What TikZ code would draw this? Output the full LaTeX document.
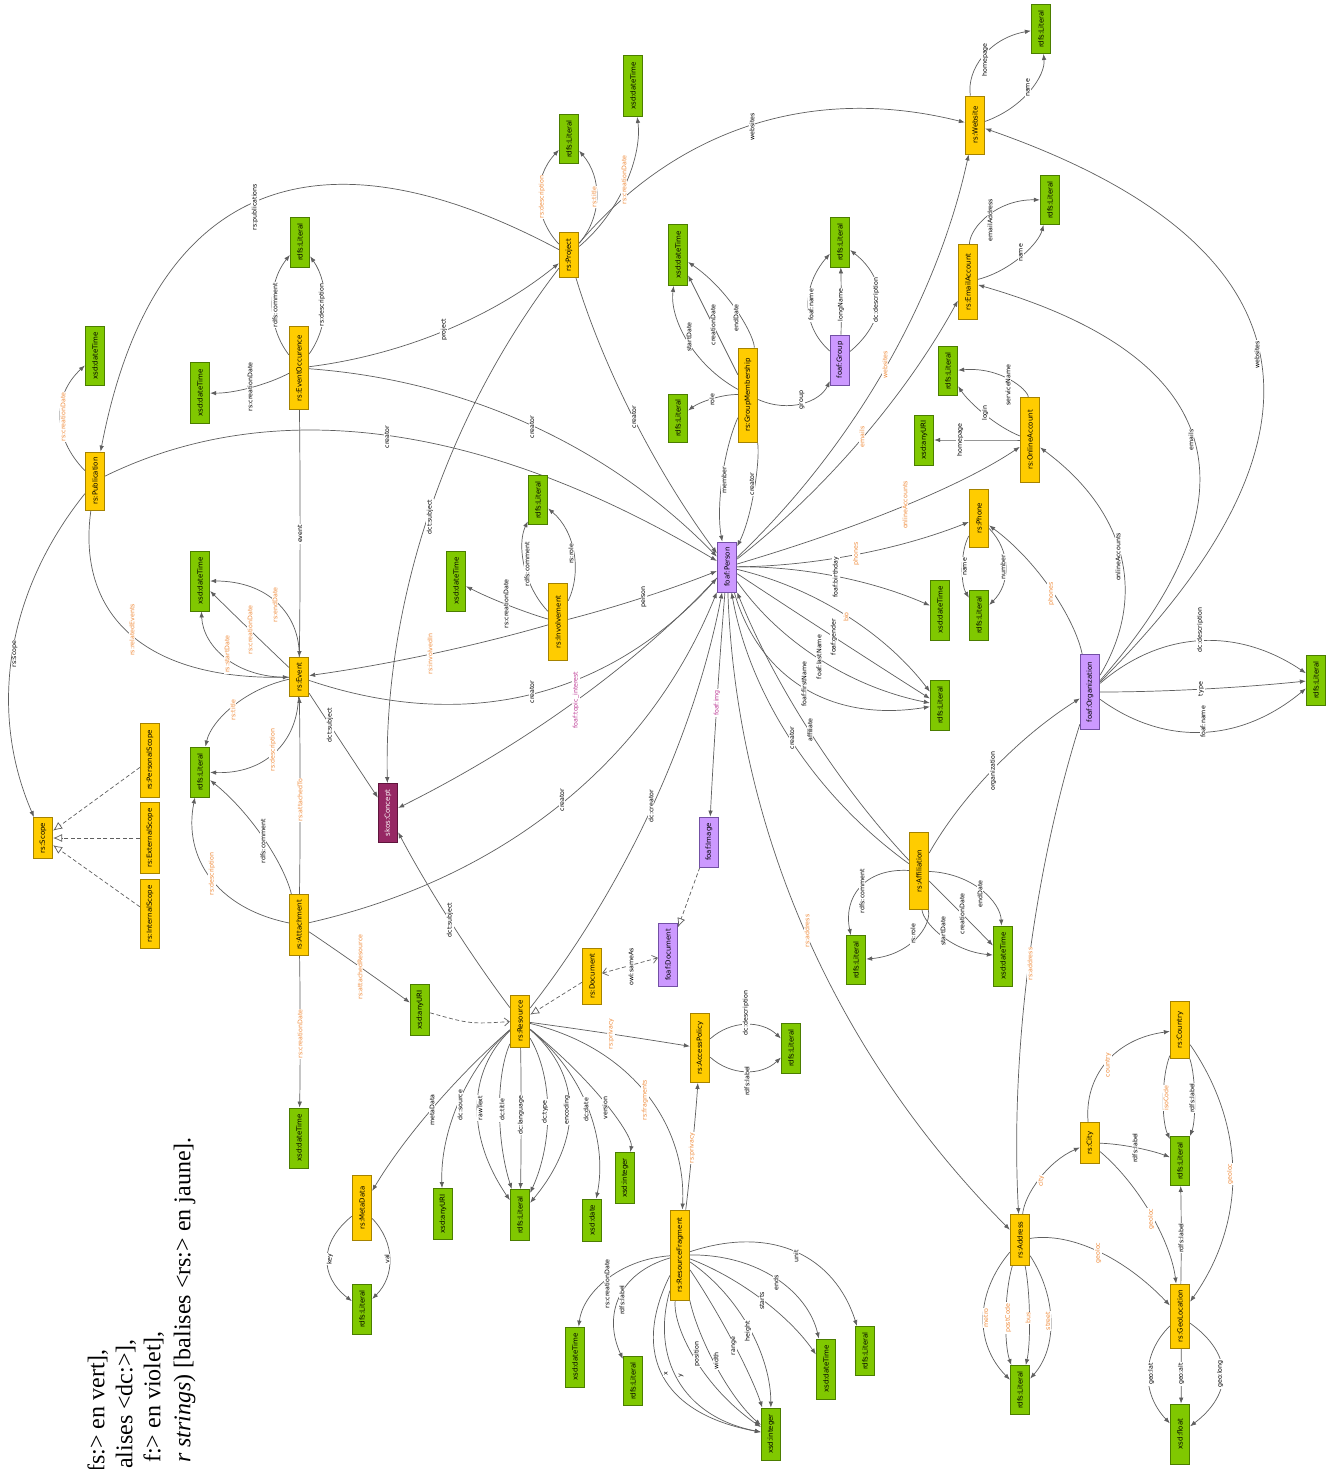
\documentclass[tikz,border=0pt]{standalone}
\usepackage{fontspec}
\setmainfont{Liberation Serif}
\newfontfamily\nodefont{DejaVu Sans}
\usetikzlibrary{calc,arrows.meta}
\pgfdeclarelayer{fg}
\pgfsetlayers{main,fg}
\definecolor{ylw}{RGB}{255,204,0}
\definecolor{ylwd}{RGB}{165,130,0}
\definecolor{grn}{RGB}{128,200,0}
\definecolor{grnd}{RGB}{75,125,0}
\definecolor{vio}{RGB}{204,153,255}
\definecolor{viod}{RGB}{115,80,165}
\definecolor{skc}{RGB}{150,40,100}
\definecolor{skd}{RGB}{95,20,60}
\definecolor{orl}{RGB}{240,140,60}
\definecolor{mgl}{RGB}{190,60,150}
\definecolor{edg}{RGB}{95,95,95}
\tikzset{
 nd/.style={rotate=90, draw, line width=0.8pt, minimum height=19.5pt, inner sep=0pt, font=\nodefont\fontsize{7}{8}\selectfont},
 gn/.style={nd, fill=grn, draw=grnd, minimum width=#1},
 yl/.style={nd, fill=ylw, draw=ylwd, minimum width=#1},
 vi/.style={nd, fill=vio, draw=viod, minimum width=#1},
 sk/.style={nd, fill=skc, draw=skd, text=white, minimum width=#1},
 edge/.style={draw=edg, line width=0.7pt, -{Latex[length=6pt,width=4.5pt]}},
 lab/.style={rotate=90, fill=white, inner sep=0.8pt, font=\nodefont\fontsize{6.3}{7}\selectfont},
 dsh/.style={draw=edg, line width=0.7pt, dash pattern=on 4pt off 2.5pt},
 tri/.style={-{Latex[open,length=9pt,width=8pt]}},
 barb/.style={-{Straight Barb[length=5pt,width=8pt]}},
 legend/.style={rotate=90, anchor=mid east, inner sep=0pt, font=\fontsize{24}{29}\selectfont},
}
% quadratic-like curve from #1 to #2 through point #3
\newcommand\Ed[5]{%
 \draw[edge] (#1) .. controls ($1.3333*(#3)-0.3333*(#2)$) and ($1.3333*(#3)-0.3333*(#1)$) .. (#2);
 \begin{pgfonlayer}{fg}\node[lab,text=#5] at (#3) {#4};\end{pgfonlayer}}
\newcommand\El[6]{%
 \draw[edge] (#1) .. controls ($1.3333*(#3)-0.3333*(#2)$) and ($1.3333*(#3)-0.3333*(#1)$) .. (#2);
 \begin{pgfonlayer}{fg}\node[lab,text=#6] at (#4) {#5};\end{pgfonlayer}}
\begin{document}
\begin{tikzpicture}[x=1pt,y=-1pt]
\fill[white] (0,0) rectangle (1332,1469);
\useasboundingbox (0,0) rectangle (1332,1469);
\begin{pgfonlayer}{fg}
% green
\node[gn=50pt] (L1) at (300,242) {rdfs:Literal};
\node[gn=59pt] (D1) at (95,356) {xsd:dateTime};
\node[gn=61pt] (D2) at (200,393) {xsd:dateTime};
\node[gn=49pt] (L2) at (569,139) {rdfs:Literal};
\node[gn=61pt] (D3) at (633,86) {xsd:dateTime};
\node[gn=61pt] (D4) at (678,255) {xsd:dateTime};
\node[gn=50pt] (L3) at (840,242) {rdfs:Literal};
\node[gn=49pt] (L4) at (1041,29) {rdfs:Literal};
\node[gn=49pt] (L5) at (1050,200) {rdfs:Literal};
\node[gn=49pt] (L6) at (948,371) {rdfs:Literal};
\node[gn=50pt] (U1) at (924,440) {xsd:anyURI};
\node[gn=48pt] (L7) at (678,418) {rdfs:Literal};
\node[gn=49pt] (L8) at (538,500) {rdfs:Literal};
\node[gn=60pt] (D5) at (456,581) {xsd:dateTime};
\node[gn=60pt] (D6) at (200,581) {xsd:dateTime};
\node[gn=60pt] (D7) at (940,610) {xsd:dateTime};
\node[gn=50pt] (L9) at (979,615) {rdfs:Literal};
\node[gn=50pt] (L10) at (940,705) {rdfs:Literal};
\node[gn=50pt] (L11) at (1316,680) {rdfs:Literal};
\node[gn=50pt] (L12) at (200,772) {rdfs:Literal};
\node[gn=51pt] (U2) at (420,1010) {xsd:anyURI};
\node[gn=49pt] (L13) at (856,960) {rdfs:Literal};
\node[gn=60pt] (D8) at (1003,956) {xsd:dateTime};
\node[gn=50pt] (L14) at (791,1048) {rdfs:Literal};
\node[gn=60pt] (D9) at (299,1138) {xsd:dateTime};
\node[gn=50pt] (L15) at (362,1309) {rdfs:Literal};
\node[gn=51pt] (U3) at (443,1214) {xsd:anyURI};
\node[gn=51pt] (L16) at (520,1215) {rdfs:Literal};
\node[gn=42pt] (DT) at (592,1220) {xsd:date};
\node[gn=51pt] (I1) at (625,1178) {xsd:integer};
\node[gn=60pt] (D10) at (575,1357) {xsd:dateTime};
\node[gn=49pt] (L17) at (633,1381) {rdfs:Literal};
\node[gn=52pt] (I2) at (771,1434) {xsd:integer};
\node[gn=60pt] (D11) at (826,1369) {xsd:dateTime};
\node[gn=49pt] (L18) at (865,1351) {rdfs:Literal};
\node[gn=49pt] (L19) at (1180,1161) {rdfs:Literal};
\node[gn=49pt] (L20) at (1020,1390) {rdfs:Literal};
\node[gn=60pt] (F1) at (1180,1434) {xsd:float};
% yellow
\node[yl=83pt] (EO) at (299,368) {rs:EventOccurence};
\node[yl=45pt] (PR) at (569,255) {rs:Project};
\node[yl=94pt] (GM) at (748,395) {rs:GroupMembership};
\node[yl=58pt] (WS) at (975,125) {rs:Website};
\node[yl=75pt] (EA) at (968,282) {rs:EmailAccount};
\node[yl=85pt] (OA) at (1030,440) {rs:OnlineAccount};
\node[yl=58pt] (PB) at (95,481) {rs:Publication};
\node[yl=39pt] (EV) at (299,677) {rs:Event};
\node[yl=77pt] (IN) at (558,622) {rs:Involvement};
\node[yl=58pt] (PH) at (979,518) {rs:Phone};
\node[yl=74pt] (PS) at (150,760) {rs:PersonalScope};
\node[yl=71pt] (ES) at (150,838) {rs:ExternalScope};
\node[yl=69pt] (IS) at (150,914) {rs:InternalScope};
\node[yl=41pt] (SC) at (43,838) {rs:Scope};
\node[yl=61pt] (AT) at (299,925) {rs:Attachment};
\node[yl=56pt] (RD) at (592,976) {rs:Document};
\node[yl=52pt] (RS) at (520,1021) {rs:Resource};
\node[yl=69pt] (AP) at (700,1048) {rs:AccessPolicy};
\node[yl=77pt] (AF) at (919,871) {rs:Affiliation};
\node[yl=65pt] (MD) at (362,1208) {rs:MetaData};
\node[yl=90pt] (RF) at (680,1255) {rs:ResourceFragment};
\node[yl=57pt] (CO) at (1180,1030) {rs:Country};
\node[yl=41pt] (CI) at (1090,1143) {rs:City};
\node[yl=51pt] (AD) at (1020,1240) {rs:Address};
\node[yl=64pt] (GL) at (1180,1316) {rs:GeoLocation};
% violet
\node[vi=50pt] (GR) at (840,360) {foaf:Group};
\node[vi=50pt] (PE) at (727,567) {foaf:Person};
\node[vi=75pt] (ORG) at (1090,692) {foaf:Organization};
\node[vi=50pt] (IM) at (709,842) {foaf:Image};
\node[vi=63pt] (FD) at (668,955) {foaf:Document};
\node[sk=59pt] (SK) at (388,813) {skos:Concept};
% legend
\node[legend] (lg1) at (102,1349) {fs:> en vert],};
\node[legend] (lg2) at (130,1339) {alises <dc:>],};
\node[legend] (lg3) at (158,1331) {f:> en violet],};
\node[legend] (lg4) at (188,1137) {\textit{r strings}) [balises <rs:> en jaune].};
\end{pgfonlayer}
% EventOccurence
\Ed{EO}{L1}{275,305}{rdfs:comment}{black}
\Ed{EO}{L1}{322,305}{rs:description}{black}
\Ed{EO}{D2}{250,387}{rs:creationDate}{black}
\Ed{EO}{PR}{444,330}{project}{black}
\Ed{EO}{EV}{300,534}{event}{black}
\Ed{EO}{PE}{532,427}{creator}{black}
% Project
\Ed{PR}{L2}{542,197}{rs:description}{orl}
\Ed{PR}{L2}{594,197}{rs:title}{orl}
\Ed{PR}{D3}{624,180}{rs:creationDate}{orl}
\Ed{PR}{WS}{752,127}{websites}{black}
\Ed{PR}{PB}{255,207}{rs:publications}{black}
\Ed{PR}{SK}{430,517}{dct:subject}{black}
\Ed{PR}{PE}{634,417}{creator}{black}
% Publication
\Ed{PB}{D1}{63,417}{rs:creationDate}{orl}
\Ed{PB}{PE}{387,437}{creator}{black}
\Ed{PB}{EV}{132,630}{rs:relatedEvents}{orl}
\Ed{PB}{SC}{15,654}{rs:scope}{black}
% Event
\Ed{EV}{D6}{227,654}{rs:startDate}{orl}
\Ed{EV}{D6}{250,630}{rs:creationDate}{orl}
\Ed{EV}{D6}{275,605}{rs:endDate}{orl}
\Ed{EV}{L12}{233,710}{rs:title}{orl}
\Ed{EV}{L12}{273,750}{rs:description}{orl}
\Ed{EV}{SK}{330,725}{dct:subject}{black}
\Ed{EV}{PE}{532,692}{creator}{black}
% Involvement
\Ed{IN}{EV}{430,654}{rs:involvedIn}{orl}
\Ed{IN}{PE}{644,597}{person}{black}
\Ed{IN}{D5}{506,604}{rs:creationDate}{black}
\Ed{IN}{L8}{527,564}{rdfs:comment}{black}
\Ed{IN}{L8}{571,554}{rs:role}{black}
% Attachment
\Ed{AT}{EV}{300,800}{rs:attachedTo}{orl}
\Ed{AT}{L12}{263,841}{rdfs:comment}{black}
\Ed{AT}{L12}{212,874}{rs:description}{orl}
\Ed{AT}{D9}{300,1034}{rs:creationDate}{orl}
\Ed{AT}{U2}{360,967}{rs:attachedResource}{orl}
\Ed{AT}{PE}{562,800}{creator}{black}
% GroupMembership
\Ed{GM}{D4}{689,337}{startDate}{black}
\Ed{GM}{D4}{713,325}{creationDate}{black}
\Ed{GM}{D4}{736,318}{endDate}{black}
\Ed{GM}{L7}{712,400}{role}{black}
\Ed{GM}{GR}{802,400}{group}{black}
\Ed{GM}{PE}{724,480}{member}{black}
\Ed{GM}{PE}{752,484}{creator}{black}
% Group
\Ed{GR}{L3}{811,305}{foaf:name}{black}
\Ed{GR}{L3}{841,305}{longName}{black}
\Ed{GR}{L3}{876,300}{dc:description}{black}
% Website, EmailAccount, OnlineAccount, Phone
\Ed{WS}{L4}{985,60}{homepage}{black}
\Ed{WS}{L4}{1028,88}{name}{black}
\Ed{EA}{L5}{990,220}{emailAddress}{black}
\Ed{EA}{L5}{1021,253}{name}{black}
\Ed{OA}{L6}{1008,385}{serviceName}{black}
\Ed{OA}{L6}{985,413}{login}{black}
\Ed{OA}{U1}{960,440}{homepage}{black}
\Ed{PH}{L9}{965,567}{name}{black}
\Ed{PH}{L9}{1003,567}{number}{black}
% Person
\Ed{PE}{WS}{885,365}{websites}{orl}
\Ed{PE}{EA}{862,437}{emails}{orl}
\Ed{PE}{OA}{905,505}{onlineAccounts}{orl}
\Ed{PE}{PH}{856,554}{phones}{orl}
\Ed{PE}{D7}{836,577}{foaf:birthday}{black}
\Ed{PE}{L10}{846,617}{bio}{orl}
\Ed{PE}{L10}{834,637}{foaf:gender}{black}
\Ed{PE}{L10}{819,657}{foaf:lastName}{black}
\Ed{PE}{L10}{804,684}{foaf:firstName}{black}
\Ed{PE}{SK}{576,700}{foaf:topic\_interest}{mgl}
\Ed{PE}{IM}{717,703}{foaf:img}{mgl}
\Ed{PE}{AD}{807,931}{rs:address}{orl}
% Organization
\Ed{ORG}{PH}{1051,594}{phones}{orl}
\Ed{ORG}{OA}{1118,557}{onlineAccounts}{black}
\Ed{ORG}{EA}{1191,440}{emails}{black}
\Ed{ORG}{WS}{1257,355}{websites}{black}
\El{ORG}{L11}{1200,643}{1200,630}{dc:description}{black}
\Ed{ORG}{L11}{1201,689}{type}{black}
\El{ORG}{L11}{1203,730}{1203,722}{foaf:name}{black}
\Ed{ORG}{AD}{1030,964}{rs:address}{orl}
% Affiliation
\Ed{AF}{PE}{810,730}{affiliate}{black}
\Ed{AF}{PE}{792,738}{creator}{black}
\Ed{AF}{ORG}{993,771}{organization}{black}
\Ed{AF}{L13}{862,891}{rdfs:comment}{black}
\Ed{AF}{L13}{913,934}{rs:role}{black}
\Ed{AF}{D8}{943,931}{startDate}{black}
\Ed{AF}{D8}{962,914}{creationDate}{black}
\Ed{AF}{D8}{980,894}{endDate}{black}
% Resource
\Ed{RS}{PE}{651,806}{dc:creator}{black}
\Ed{RS}{SK}{450,920}{dct:subject}{black}
\Ed{RS}{AP}{611,1034}{rs:privacy}{orl}
\Ed{RS}{RF}{645,1100}{rs:fragments}{orl}
\Ed{RS}{MD}{432,1110}{metaData}{black}
\Ed{RS}{U3}{460,1105}{dc:source}{black}
\Ed{RS}{L16}{480,1108}{rawText}{black}
\Ed{RS}{L16}{502,1110}{dc:title}{black}
\Ed{RS}{L16}{521,1115}{dc:language}{black}
\Ed{RS}{L16}{545,1112}{dc:type}{black}
\Ed{RS}{L16}{567,1110}{encoding}{black}
\Ed{RS}{DT}{586,1110}{dc:date}{black}
\Ed{RS}{I1}{605,1108}{version}{black}
% AccessPolicy
\El{AP}{L14}{746,1027}{746,1013}{dc:description}{black}
\El{AP}{L14}{746,1069}{747,1081}{rdfs:label}{black}
% ResourceFragment
\Ed{RF}{AP}{692,1148}{rs:privacy}{orl}
\Ed{RF}{D10}{607,1284}{rs:creationDate}{black}
\Ed{RF}{L17}{622,1300}{rdfs:label}{black}
\Ed{RF}{I2}{666,1374}{x}{black}
\Ed{RF}{I2}{681,1376}{y}{black}
\Ed{RF}{I2}{697,1354}{position}{black}
\Ed{RF}{I2}{716,1361}{width}{black}
\Ed{RF}{I2}{734,1346}{range}{black}
\Ed{RF}{I2}{748,1331}{height}{black}
\Ed{RF}{D11}{762,1301}{starts}{black}
\Ed{RF}{D11}{776,1283}{ends}{black}
\Ed{RF}{L18}{796,1256}{unit}{black}
% MetaData
\Ed{MD}{L15}{330,1259}{key}{black}
\Ed{MD}{L15}{387,1259}{val}{black}
% Address, City, Country, GeoLocation
\Ed{AD}{CI}{1041,1181}{city}{orl}
\Ed{AD}{GL}{1098,1253}{geoloc}{orl}
\Ed{AD}{L20}{986,1318}{metro}{orl}
\Ed{AD}{L20}{1008,1318}{postCode}{orl}
\Ed{AD}{L20}{1028,1318}{bus}{orl}
\Ed{AD}{L20}{1048,1321}{street}{orl}
\Ed{CI}{CO}{1108,1065}{country}{orl}
\Ed{CI}{L19}{1135,1148}{rdfs:label}{black}
\Ed{CI}{GL}{1151,1219}{geoloc}{orl}
\Ed{CO}{L19}{1166,1098}{isoCode}{orl}
\Ed{CO}{L19}{1192,1098}{rdfs:label}{black}
\Ed{CO}{GL}{1230,1174}{geoloc}{orl}
\Ed{GL}{L19}{1181,1238}{rdfs:label}{black}
\Ed{GL}{F1}{1151,1374}{geo:lat}{black}
\Ed{GL}{F1}{1181,1374}{geo:alt}{black}
\Ed{GL}{F1}{1220,1374}{geo:long}{black}
% dashed
\draw[dsh,tri] (PS) -- (SC);
\draw[dsh,tri] (ES) -- (SC);
\draw[dsh,tri] (IS) -- (SC);
\draw[dsh,tri] (IM) -- (FD);
\draw[dsh,tri] (RD) -- (RS);
\draw[dsh,barb] (U2) .. controls (470,1024) .. (RS);
\draw[dsh,{Straight Barb[length=5pt,width=8pt]}-{Straight Barb[length=5pt,width=8pt]}] (RD) -- (FD);
\begin{pgfonlayer}{fg}\node[lab] (sameas) at (631,967) {owl:sameAs};\end{pgfonlayer}
\end{tikzpicture}
\end{document}
